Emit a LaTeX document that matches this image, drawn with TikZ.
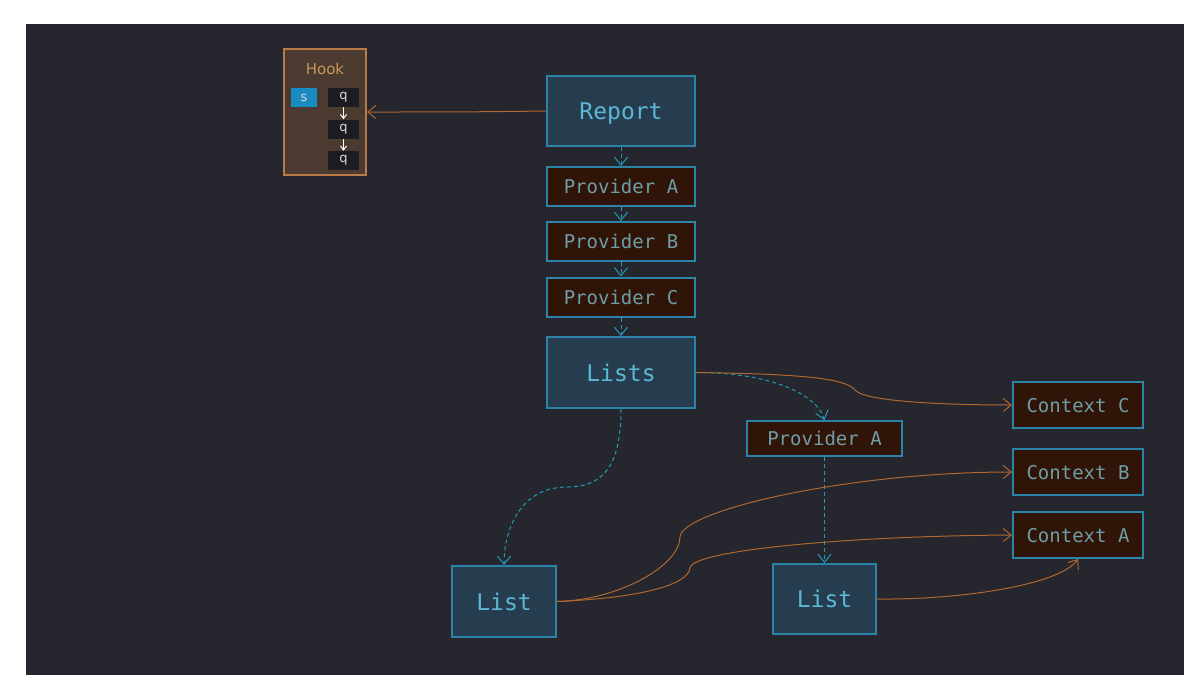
\documentclass[tikz,border=0pt]{standalone}
\usepackage{fontspec}
\setmainfont{DejaVu Sans}
\setmonofont{DejaVu Sans Mono}
\usetikzlibrary{arrows.meta}
\definecolor{bg}{HTML}{25262E}
\definecolor{boxline}{HTML}{2B84A8}
\definecolor{boxfill}{HTML}{263D4F}
\definecolor{boxtext}{HTML}{5CB8D6}
\definecolor{provfill}{HTML}{311408}
\definecolor{provtext}{HTML}{6D9EA6}
\definecolor{wire}{HTML}{B0682F}
\definecolor{hookfill}{HTML}{4A3A30}
\definecolor{hookline}{HTML}{B97A48}
\definecolor{hooktext}{HTML}{C8955A}
\definecolor{sfill}{HTML}{1A8BC0}
\definecolor{qfill}{HTML}{1C1C22}
\tikzset{>={Straight Barb[length=8pt,width=13pt]}}
\tikzset{
  bigbox/.style={draw=boxline, line width=2pt, fill=boxfill, text=boxtext, inner sep=0pt,
    text depth=0pt, font=\ttfamily\fontsize{23}{23}\selectfont},
  provbox/.style={draw=boxline, line width=2pt, fill=provfill, text=provtext, inner sep=0pt,
    text depth=0pt, font=\ttfamily\fontsize{19}{19}\selectfont},
  flow/.style={->, boxline!80!cyan, line width=1pt, dash pattern=on 4pt off 3pt},
  wired/.style={->, wire, line width=1pt},
  qbox/.style={fill=qfill, text=white!85!black, minimum width=31pt, minimum height=19pt,
    inner sep=0pt, font=\fontsize{13}{13}\selectfont}
}

\begin{document}
\begin{tikzpicture}[x=1pt,y=-1pt]
\fill[white] (0,0) rectangle (1195,691);
\fill[bg] (26,24) rectangle (1184,675);
\useasboundingbox (0,0) rectangle (1195,691);

% hook
\node[draw=hookline, line width=2pt, fill=hookfill, minimum width=82pt, minimum height=126pt] (hook) at (325,112) {};
\node[text=hooktext, font=\fontsize{15}{15}\selectfont] (hooklbl) at (325,69) {Hook};
\node[qbox, fill=sfill, minimum width=26pt] (s) at (304,97.5) {s};
\foreach \i/\y in {1/97.5,2/129,3/160.5}
\node[qbox] (q\i) at (343.5,\y) {q};
\foreach \a/\b in {q1/q2,q2/q3}
\draw[-{Straight Barb[length=4pt,width=6pt]}, white, line width=1pt] (\a) -- (\b);

% main column
\node[bigbox, minimum width=148pt, minimum height=70pt] (report) at (621,111) {Report};
\foreach \n/\y in {A/186.5,B/241.5,C/297}
\node[provbox, minimum width=148pt, minimum height=39pt] (prov\n) at (621,\y) {Provider \n};
\node[bigbox, minimum width=148pt, minimum height=71pt] (lists) at (621,372.5) {Lists};
\foreach \a/\b in {report/provA,provA/provB,provB/provC,provC/lists}
\draw[flow] (\a) -- (\b);

\node[provbox, minimum width=155pt, minimum height=35pt] (provA2) at (824.5,438.5) {Provider A};
\foreach \n/\y in {C/405,B/472,A/535}
\node[provbox, minimum width=130pt, minimum height=46pt] (ctx\n) at (1078,\y) {Context \n};
\node[bigbox, minimum width=104pt, minimum height=71pt] (listL) at (504,601.5) {List};
\node[bigbox, minimum width=103pt, minimum height=70pt] (listR) at (824.5,599) {List};

% connectors
\draw[wired] (report.west) .. controls (470,112) and (450,112) .. (hook.east);
\draw[flow] (lists.east) .. controls (760,372) and (815,390) .. (provA2.north);
\draw[wired] (lists.east) .. controls (800,374) and (845,378) .. (855,390)
  .. controls (865,402) and (950,405) .. (ctxC.west);
\draw[flow] (lists.south) .. controls (621,470) and (600,487) .. (567,487)
  .. controls (520,487) and (504,530) .. (listL.north);
\draw[flow] (provA2) -- (listR);
\draw[wired] (listL.east) .. controls (620,600) and (680,565) .. (680,537)
  .. controls (682,510) and (850,472) .. (ctxB.west);
\draw[wired] (listL.east) .. controls (640,598) and (688,585) .. (690,568)
  .. controls (692,550) and (850,536) .. (ctxA.west);
\draw[wired] (listR.east) .. controls (960,600) and (1060,585) .. (ctxA.south);
\end{tikzpicture}
\end{document}
